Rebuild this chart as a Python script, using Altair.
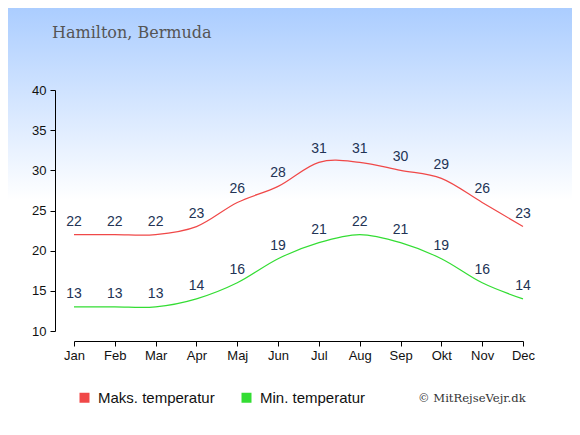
import altair as alt
import pandas as pd

months = ["Jan", "Feb", "Mar", "Apr", "Maj", "Jun", "Jul", "Aug", "Sep", "Okt", "Nov", "Dec"]
max_temp = [22, 22, 22, 23, 26, 28, 31, 31, 30, 29, 26, 23]
min_temp = [13, 13, 13, 14, 16, 19, 21, 22, 21, 19, 16, 14]
series_names = ["Maks. temperatur", "Min. temperatur"]
series_colors = ["#f04848", "#33dd33"]
y_ticks = [10, 15, 20, 25, 30, 35, 40]
title_text = "Hamilton, Bermuda"
credit_text = "© MitRejseVejr.dk"

rows = []
for m, v in zip(months, max_temp):
    rows.append({"month": m, "temp": v, "series": series_names[0]})
for m, v in zip(months, min_temp):
    rows.append({"month": m, "temp": v, "series": series_names[1]})
df = pd.DataFrame(rows)

W, H = 449, 241
PAD = {"left": 66, "top": 82, "right": 49, "bottom": 90}

x_enc = alt.X("month:N", sort=months, scale=alt.Scale(type="point", padding=0),
              axis=alt.Axis(title=None, labelAngle=0, offset=10, tickSize=5,
                            labelPadding=3, labelFontSize=13, zindex=2))
y_enc = alt.Y("temp:Q", scale=alt.Scale(domain=[10, 40], nice=False, zero=False),
              axis=alt.Axis(title=None, values=y_ticks, offset=19, tickSize=5,
                            labelPadding=4, labelFontSize=13, grid=False, zindex=2))
color_scale = alt.Scale(domain=series_names, range=series_colors)

one = pd.DataFrame({"a": [0]})
legend_df = pd.DataFrame({"series": series_names})

# gradient backdrop, ending above the legend row (white from there on)
bg = alt.Chart(one).mark_rect(
    color=alt.Gradient(
        gradient="linear", x1=0, y1=0, x2=0, y2=1,
        stops=[alt.GradientStop(offset=0, color="#abcdff"),
               alt.GradientStop(offset=0.53, color="#ffffff"),
               alt.GradientStop(offset=1, color="#ffffff")]
    )
).encode(
    x=alt.value(-PAD["left"]), x2=alt.value(W + PAD["right"]),
    y=alt.value(-PAD["top"]), y2=alt.value(H + 40)
)

line_layers = []
for name, col in zip(series_names, series_colors):
    line_layers.append(
        alt.Chart(df).transform_filter(alt.datum.series == name)
        .mark_line(interpolate="cardinal", strokeWidth=1.2, color=col)
        .encode(x=x_enc, y=y_enc)
    )

# legend carrier: squares kept off-canvas, only their legend is visible
legend_pts = alt.Chart(legend_df).mark_square(size=100, opacity=1).encode(
    x=alt.value(-3000),
    y=alt.value(-3000),
    fill=alt.Fill("series:N", scale=color_scale,
                  legend=alt.Legend(
                      title=None, orient="none", direction="horizontal",
                      legendX=3, legendY=300, symbolType="square", symbolSize=100,
                      symbolOpacity=1, symbolStrokeWidth=0,
                      labelFontSize=15, labelFont="Liberation Sans", labelColor="#111111",
                      labelOffset=6, columnPadding=24
                  ))
)

labels = alt.Chart(df).mark_text(
    dy=-9, baseline="alphabetic", fontSize=14, font="Liberation Sans", color="#223355"
).encode(
    x=alt.X("month:N", sort=months),
    y="temp:Q",
    text="temp:Q",
    detail="series:N"
)

title = alt.Chart(one).mark_text(
    text=title_text, align="left", baseline="alphabetic",
    font="DejaVu Serif", fontSize=16, color="#555555"
).encode(x=alt.value(-22), y=alt.value(-52))

credit = alt.Chart(one).mark_text(
    text=credit_text, align="left", baseline="alphabetic",
    font="DejaVu Serif", fontSize=11.6, color="#333333"
).encode(x=alt.value(344), y=alt.value(312))

chart = alt.layer(bg, *line_layers, legend_pts, labels, title, credit).properties(
    width=W, height=H,
    autosize=alt.AutoSizeParams(type="none"),
    padding=PAD,
    background="#ffffff"
).configure_view(stroke=None).configure_axis(
    domainColor="#000000", tickColor="#000000", labelColor="#111111",
    labelFont="Liberation Sans", grid=False
)

chart.save("out.html", embed_options={"renderer": "svg", "actions": False})
